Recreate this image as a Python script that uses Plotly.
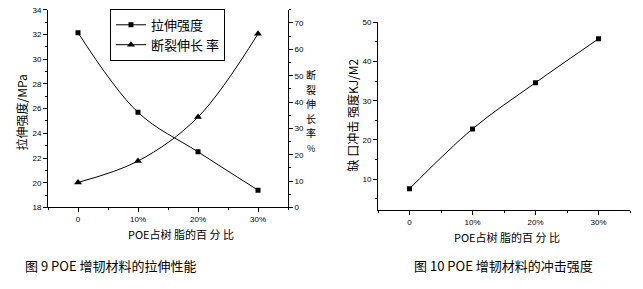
import plotly.graph_objects as go

W, H = 643, 289

# ---- data ----
poe_pct = [0, 10, 20, 30]
x_ticklabels = ["0", "10%", "20%", "30%"]
tensile_strength = [32.15, 25.7, 22.5, 19.4]      # MPa
elongation = [9.5, 17.6, 34.3, 65.9]              # %
impact_strength = [7.5, 22.8, 34.6, 45.8]         # KJ/M2

CJK = "Noto Sans CJK SC, Noto Sans, sans-serif"
TICKF = dict(family="Liberation Sans, Arial, sans-serif", size=8, color="black")

def px_x(p):
    return p / W

def px_y(p):
    return 1 - p / H

fig = go.Figure()

fig.add_trace(go.Scatter(
    x=poe_pct, y=tensile_strength, name="拉伸强度", mode="lines+markers",
    line=dict(color="black", width=1, shape="spline"),
    marker=dict(symbol="square", size=5, color="black"),
    xaxis="x", yaxis="y"))
fig.add_trace(go.Scatter(
    x=poe_pct, y=elongation, name="断裂伸长 率", mode="lines+markers",
    line=dict(color="black", width=1, shape="spline"),
    marker=dict(symbol="triangle-up", size=7, color="black"),
    xaxis="x", yaxis="y2"))
fig.add_trace(go.Scatter(
    x=poe_pct, y=impact_strength, name="冲击强度", mode="lines+markers",
    line=dict(color="black", width=1, shape="spline"),
    marker=dict(symbol="square", size=5, color="black"),
    xaxis="x2", yaxis="y3", showlegend=False))

axis_common = dict(showgrid=False, zeroline=False, showline=True, linecolor="black",
                   linewidth=1, ticks="outside", ticklen=4, tickcolor="black",
                   tickfont=TICKF, mirror=False)

fig.update_layout(
    width=W, height=H, margin=dict(l=0, r=0, t=0, b=0),
    paper_bgcolor="white", plot_bgcolor="white",
    xaxis=dict(**axis_common, domain=[px_x(48), px_x(288)], range=[-5, 35],
               tickvals=poe_pct, ticktext=x_ticklabels, anchor="y",
               minor=dict(ticks="outside", dtick=5, tick0=0, ticklen=2, tickcolor="black")),
    yaxis=dict(**axis_common, domain=[px_y(210), px_y(6)], range=[18, 34],
               dtick=2, anchor="x",
               minor=dict(ticks="outside", dtick=1, ticklen=2, tickcolor="black")),
    yaxis2=dict(**axis_common, overlaying="y", side="right", range=[0, 75],
                dtick=10, anchor="x",
                minor=dict(ticks="outside", dtick=5, ticklen=2, tickcolor="black")),
    xaxis2=dict(**axis_common, domain=[px_x(378), px_x(630)], range=[-5, 35],
                tickvals=poe_pct, ticktext=x_ticklabels, anchor="y3",
                minor=dict(ticks="outside", dtick=5, tick0=0, ticklen=2, tickcolor="black")),
    yaxis3=dict(**axis_common, domain=[px_y(213), px_y(19)], range=[2, 50],
                tickvals=[10, 20, 30, 40, 50], anchor="x2",
                minor=dict(ticks="outside", dtick=5, tick0=0, ticklen=2, tickcolor="black")),
    legend=dict(x=px_x(110), y=px_y(5), xanchor="left", yanchor="top",
                bordercolor="black", borderwidth=1, bgcolor="white",
                font=dict(family=CJK, size=13, color="black"),
                tracegroupgap=0, itemwidth=30),
    showlegend=True,
)

ann = []
def add_text(text, x, y, size, angle=0, xanchor="center"):
    ann.append(dict(text=text, x=px_x(x), y=px_y(y), xref="paper", yref="paper",
                    showarrow=False, textangle=angle, xanchor=xanchor, yanchor="middle",
                    font=dict(family=CJK, size=size, color="black")))

add_text("拉伸强度/MPa", 22, 112, 12, angle=-90)
for ch, yy in zip(["断", "裂", "伸", "长", "率", "%"], [73, 88, 103, 118, 133, 149]):
    add_text(ch, 311, yy, 10 if ch != "%" else 9)
add_text("POE占树 脂的百 分 比", 181, 237, 11)
add_text("缺 口冲击 强度KJ/M2", 352, 115, 12, angle=-90)
add_text("POE占树 脂的百 分 比", 507, 240, 11)
add_text("图 9 POE 增韧材料的拉伸性能", 23, 270, 13, xanchor="left")
add_text("图 10 POE 增韧材料的冲击强度", 412, 270, 13, xanchor="left")
fig.update_layout(annotations=ann)

fig.write_html("out.html")
